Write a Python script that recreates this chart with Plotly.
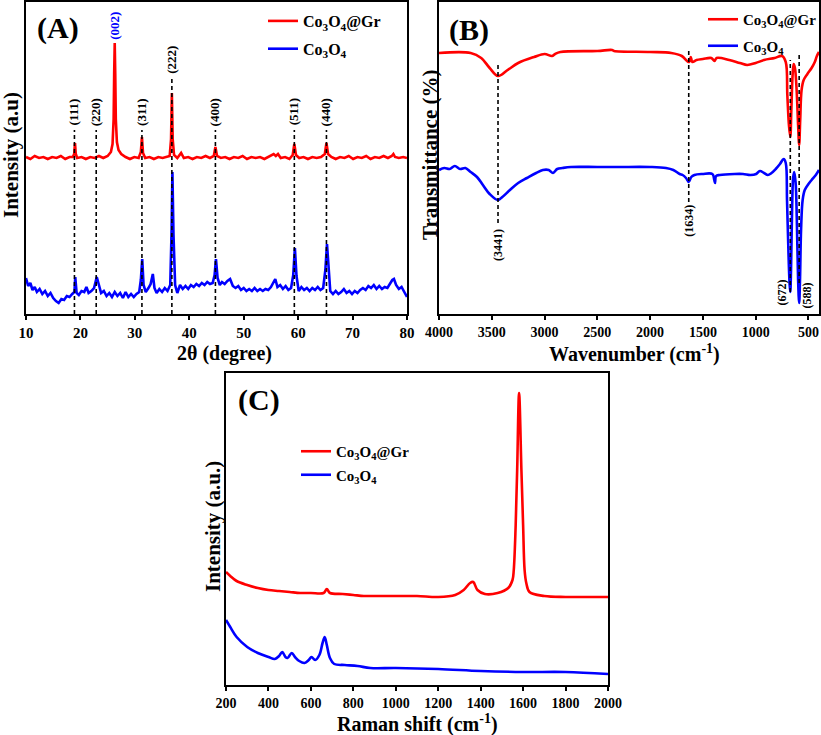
import plotly.graph_objects as go

# ---------------- Panel A: XRD ----------------
xrd_gr_2theta = [10.0, 10.8, 11.6, 12.4, 13.2, 14.0, 14.8, 15.6, 16.4, 17.2, 18.0, 18.6, 18.85, 19.0, 19.15, 19.4,
                 20.2, 21.0, 21.8, 22.6, 23.4, 24.2, 25.0, 25.6, 25.9, 26.1, 26.2, 26.3, 26.4, 26.5, 26.7, 27.0,
                 27.5, 28.3, 29.1, 29.9, 30.7, 31.1, 31.3, 31.5, 31.9, 32.7, 33.5, 34.3, 35.1, 35.9, 36.4, 36.65,
                 36.8, 36.95, 37.2, 37.8, 38.5, 39.0, 39.8, 40.6, 41.4, 42.2, 43.0, 43.8, 44.5, 44.8, 45.1, 45.8,
                 46.6, 47.4, 48.2, 49.0, 49.8, 50.6, 51.4, 52.2, 53.0, 53.8, 54.6, 55.5, 55.9, 56.3, 56.8, 57.6,
                 58.4, 59.0, 59.3, 59.6, 60.2, 61.0, 61.8, 62.6, 63.4, 64.2, 64.9, 65.2, 65.5, 66.1, 66.9, 67.7,
                 68.5, 69.3, 70.1, 70.9, 71.7, 72.5, 73.3, 74.1, 74.9, 75.7, 76.5, 77.2, 77.5, 77.8, 78.5, 79.3, 80.0]
xrd_gr_int = [157, 155, 158, 156, 157, 155, 157, 156, 158, 155, 157, 157, 160, 171, 160, 156,
              157, 155, 157, 156, 158, 156, 158, 162, 170, 195, 240, 271, 240, 195, 172, 164,
              160, 157, 155, 157, 156, 162, 177, 161, 156, 157, 155, 157, 156, 157, 158, 175,
              221, 175, 159, 156, 161, 156, 157, 155, 157, 156, 158, 156, 158, 167, 158, 156,
              157, 155, 157, 156, 158, 155, 157, 156, 157, 155, 157, 160, 158, 160, 156, 157,
              155, 159, 170, 159, 156, 157, 155, 157, 156, 157, 160, 171, 160, 157, 155, 157,
              156, 158, 155, 157, 156, 158, 155, 157, 156, 158, 156, 158, 160, 157, 156, 157, 156]

xrd_co_2theta = [10.0, 10.4, 10.8, 11.2, 11.6, 12.0, 12.5, 13.0, 13.5, 14.0, 14.5, 15.0, 15.5, 16.0, 16.5, 17.0,
                 17.5, 18.0, 18.5, 18.9, 19.05, 19.3, 19.7, 20.2, 20.7, 21.1, 21.5, 22.0, 22.5, 23.0, 23.4, 23.8,
                 24.3, 24.8, 25.3, 25.8, 26.3, 26.8, 27.3, 27.8, 28.3, 28.8, 29.3, 29.8, 30.3, 30.8, 31.1, 31.35,
                 31.6, 32.0, 32.5, 32.9, 33.3, 33.6, 34.0, 34.5, 35.0, 35.5, 36.0, 36.5, 36.75, 36.9, 37.1, 37.4,
                 37.8, 38.3, 38.8, 39.3, 39.8, 40.3, 40.8, 41.3, 41.8, 42.3, 42.8, 43.3, 43.8, 44.3, 44.65, 44.9,
                 45.2, 45.6, 46.0, 46.5, 47.0, 47.5, 48.0, 48.5, 49.0, 49.5, 50.0, 50.5, 51.0, 51.5, 52.0, 52.5,
                 53.0, 53.5, 54.0, 54.5, 55.0, 55.5, 55.8, 56.2, 56.7, 57.2, 57.7, 58.2, 58.7, 59.1, 59.4, 59.7,
                 60.1, 60.6, 61.1, 61.6, 62.1, 62.6, 63.1, 63.6, 64.1, 64.6, 65.0, 65.3, 65.6, 65.9, 66.4, 66.9,
                 67.4, 67.9, 68.4, 68.9, 69.4, 69.9, 70.4, 70.9, 71.4, 71.9, 72.4, 72.9, 73.4, 73.9, 74.4, 74.9,
                 75.4, 75.9, 76.4, 76.9, 77.3, 77.6, 78.0, 78.5, 79.0, 79.5, 80.0]
xrd_co_int = [36, 28, 31, 24, 27, 22, 25, 20, 23, 18, 21, 16, 13, 11, 15, 14,
              18, 17, 20, 22, 37, 21, 19, 23, 22, 27, 21, 23, 26, 37, 29, 21,
              23, 18, 21, 17, 22, 18, 21, 16, 22, 17, 20, 17, 20, 22, 34, 55,
              29, 22, 26, 30, 40, 26, 21, 25, 22, 26, 23, 29, 84, 142, 79, 29,
              21, 29, 25, 28, 25, 29, 27, 30, 28, 31, 29, 32, 30, 31, 39, 55,
              36, 29, 32, 30, 33, 35, 28, 26, 28, 24, 26, 23, 25, 23, 26, 23,
              25, 23, 25, 24, 27, 32, 35, 27, 29, 25, 28, 24, 26, 39, 66, 38,
              23, 27, 24, 26, 23, 26, 24, 27, 24, 26, 44, 70, 49, 23, 20, 23,
              20, 22, 25, 21, 23, 20, 23, 21, 24, 26, 24, 28, 26, 29, 25, 28,
              25, 27, 26, 30, 34, 35, 29, 25, 27, 22, 17]

xrd_peaks = [18.9, 22.9, 31.3, 36.8, 44.8, 59.3, 65.2]
xrd_peak_labels = ["(111)", "(220)", "(311)", "(222)", "(400)", "(511)", "(440)"]
xrd_line_top = [184, 184, 184, 237, 184, 184, 184]
xrd_label_y = [202, 202, 202, 254, 202, 202, 202]
gr_peak = [26.3]
gr_peak_label = ["(002)"]
gr_label_y = [288]

# ---------------- Panel B: FTIR ----------------
ftir_gr_wn = [4000, 3700, 3600, 3520, 3441, 3350, 3250, 3100, 3000, 2930, 2900, 2850, 2500, 2360, 2340, 2000,
              1800, 1700, 1650, 1630, 1615, 1600, 1560, 1500, 1420, 1390, 1370, 1250, 1150, 1080, 1000, 920,
              820, 750, 715, 700, 685, 672, 662, 650, 640, 628, 612, 598, 588, 578, 565, 545, 510, 470, 440,
              420, 400]
ftir_gr_t = [261, 261, 256, 246, 238, 244, 251, 257, 260, 258, 260, 262, 263, 264, 263, 262,
             261, 258, 253, 252, 257, 252, 254, 255, 256, 253, 256, 254, 251, 249, 251, 254,
             256, 258, 252, 219, 189, 177, 204, 239, 250, 246, 224, 189, 169, 194, 224, 234, 240, 246, 252,
             258, 262]

ftir_co_wn = [4000, 3950, 3900, 3850, 3800, 3750, 3700, 3640, 3584, 3520, 3442, 3400, 3328, 3250, 3167, 3080,
              3016, 2960, 2920, 2880, 2830, 2750, 2500, 2300, 2000, 1850, 1780, 1720, 1692, 1660, 1634, 1610,
              1580, 1505, 1410, 1392, 1385, 1375, 1340, 1200, 1120, 1050, 995, 960, 920, 885, 850, 810,
              770, 735, 715, 703, 690, 678, 672, 665, 655, 645, 635, 622, 610, 598, 588, 580, 570, 555,
              535, 500, 470, 430, 400]
ftir_co_t = [144, 146, 145, 148, 145, 146, 142, 137, 129, 120, 114, 117, 124, 131, 136, 141,
             144, 144, 141, 145, 146, 147, 147, 147, 147, 146, 144, 140, 139, 136, 132, 137,
             139, 140, 140, 134, 131, 138, 139, 140, 140, 139, 140, 143, 141, 139, 141, 145,
             150, 155, 151, 114, 64, 29, 22, 44, 104, 136, 142, 132, 94, 34, 11, 34, 84, 114,
             124, 130, 134, 139, 144]

ftir_marks = [3441, 1634, 672, 588]
ftir_mark_labels = ["(3441)", "(1634)", "(672)", "(588)"]
ftir_line_top = [252, 266, 254, 259]
ftir_line_bottom = [91, 112, 22, 31]
ftir_label_x = [3441, 1634, 755, 509]
ftir_label_y = [69, 93, 21, 19]

# ---------------- Panel C: Raman ----------------
raman_gr_shift = [200, 220, 250, 300, 350, 400, 450, 500, 550, 600, 660, 675, 690, 750, 800, 850, 900, 1000,
                  1100, 1200, 1280, 1320, 1350, 1365, 1385, 1420, 1480, 1530, 1550, 1556, 1565, 1572, 1581,
                  1592, 1600, 1607, 1615, 1630, 1700, 1800, 1900, 2000]
raman_gr_int = [113, 109, 104, 100, 97, 95, 94, 93, 92, 92, 92, 96, 92, 91, 90, 89, 89, 89,
                89, 88, 90, 95, 102, 103, 95, 91, 92, 97, 105, 115, 160, 215, 292,
                215, 160, 115, 102, 93, 89, 88, 88, 88]

raman_co_shift = [200, 220, 250, 300, 350, 400, 430, 450, 465, 480, 490, 510, 525, 545, 570, 590, 603, 620,
                  640, 655, 665, 675, 690, 710, 760, 820, 880, 1000, 1200, 1400, 1600, 1800, 2000]
raman_co_int = [65, 58, 48, 38, 32, 28, 26, 29, 33, 28, 27, 32, 28, 24, 22, 25, 28, 25,
                30, 42, 48, 40, 27, 21, 20, 19, 17, 17, 16, 14, 13, 13, 11]

RED = "#ff0000"
BLUE = "#0000ff"
FONT = "Times New Roman, Liberation Serif, serif"
W, H = 821, 735

fig = go.Figure()
series = [
    (xrd_gr_2theta, xrd_gr_int, RED, "Co<sub>3</sub>O<sub>4</sub>@Gr", "x", "y", "legend", "linear"),
    (xrd_co_2theta, xrd_co_int, BLUE, "Co<sub>3</sub>O<sub>4</sub>", "x", "y", "legend", "linear"),
    (ftir_gr_wn, ftir_gr_t, RED, "Co<sub>3</sub>O<sub>4</sub>@Gr", "x2", "y2", "legend2", "spline"),
    (ftir_co_wn, ftir_co_t, BLUE, "Co<sub>3</sub>O<sub>4</sub>", "x2", "y2", "legend2", "spline"),
    (raman_gr_shift, raman_gr_int, RED, "Co<sub>3</sub>O<sub>4</sub>@Gr", "x3", "y3", "legend3", "spline"),
    (raman_co_shift, raman_co_int, BLUE, "Co<sub>3</sub>O<sub>4</sub>", "x3", "y3", "legend3", "spline"),
]
for i, (xs, ys, col, name, xa, ya, leg, shp) in enumerate(series):
    fig.add_trace(go.Scatter(x=xs, y=ys, mode="lines", line=dict(color=col, width=2.6, shape=shp),
                             name=name, xaxis=xa, yaxis=ya, legend=leg, legendgroup="g%d" % i))


def xax(domain, rng, dtick, size):
    return dict(domain=domain, range=rng, dtick=dtick, showline=True, linecolor="black", linewidth=2,
                mirror=True, ticks="outside", ticklen=4, tickwidth=2, tickcolor="black", showgrid=False,
                zeroline=False, automargin=False,
                tickfont=dict(family=FONT, size=size, color="black", weight="bold"))


def yax(domain, anchor):
    return dict(domain=domain, range=[0, 312], anchor=anchor, showline=True, linecolor="black", linewidth=2,
                mirror=True, ticks="", showticklabels=False, showgrid=False, zeroline=False, automargin=False)


top_dom = [1 - 314 / H, 1 - 2 / H]
shapes = []
annotations = []


def ann(**kw):
    kw.setdefault("xanchor", "center")
    kw.setdefault("yanchor", "middle")
    kw.setdefault("showarrow", False)
    annotations.append(kw)


for px, top, lab, ly in zip(xrd_peaks, xrd_line_top, xrd_peak_labels, xrd_label_y):
    shapes.append(dict(type="line", xref="x", yref="y", x0=px, x1=px, y0=0, y1=top,
                       line=dict(color="black", width=1.6, dash="4px,3px")))
    ann(x=px, y=ly, xref="x", yref="y", text=lab, textangle=-90,
        font=dict(family=FONT, size=13, color="black", weight="bold"))
for px, lab, ly in zip(gr_peak, gr_peak_label, gr_label_y):
    ann(x=px, y=ly, xref="x", yref="y", text=lab, textangle=-90,
        font=dict(family=FONT, size=13, color=BLUE, weight="bold"))

for wx, t0, t1, lab, lx, ly in zip(ftir_marks, ftir_line_top, ftir_line_bottom, ftir_mark_labels,
                                   ftir_label_x, ftir_label_y):
    shapes.append(dict(type="line", xref="x2", yref="y2", x0=wx, x1=wx, y0=t1, y1=t0,
                       line=dict(color="black", width=1.6, dash="4px,3px")))
    ann(x=lx, y=ly, xref="x2", yref="y2", text=lab, textangle=-90,
        font=dict(family=FONT, size=12, color="black", weight="bold"))

# panel letters
for ax, lab, dx, dy in [("", "(A)", 0.084, 0.917), ("2", "(B)", 0.079, 0.91), ("3", "(C)", 0.086, 0.913)]:
    ann(x=dx, y=dy, xref="x%s domain" % ax, yref="y%s domain" % ax, text=lab,
        font=dict(family=FONT, size=30, color="black", weight="bold"))

# axis titles
titles = [("2θ (degree)", 224, 353, 0, 20), ("Wavenumber (cm<sup>-1</sup>)", 634, 353, 0, 20),
          ("Raman shift (cm<sup>-1</sup>)", 417, 723, 0, 20),
          ("Intensity (a.u)", 11, 155, -90, 21), ("Transmittance (%)", 430, 155, -90, 21),
          ("Intensity (a.u.)", 213, 527, -90, 21)]
for txt, x, y, ang, sz in titles:
    ann(x=x / W, y=1 - y / H, xref="paper", yref="paper", text=txt, textangle=ang,
        font=dict(family=FONT, size=sz, color="black", weight="bold"))

fig.update_layout(
    width=W, height=H, margin=dict(l=0, r=0, t=0, b=0, autoexpand=False),
    paper_bgcolor="white", plot_bgcolor="white",
    font=dict(family=FONT, color="black"),
    xaxis=xax([26 / W, 407 / W], [10, 80], 10, 15),
    yaxis=yax(top_dom, "x"),
    xaxis2=dict(xax([439 / W, 819 / W], [4000, 400], 500, 14), anchor="y2"),
    yaxis2=yax(top_dom, "x2"),
    xaxis3=dict(xax([226 / W, 608 / W], [200, 2000], 200, 14), anchor="y3"),
    yaxis3=yax([1 - 685 / H, 1 - 373 / H], "x3"),
    shapes=shapes, annotations=annotations,
    legend=dict(x=263 / W, y=1 - 4 / H, xanchor="left", yanchor="top", bgcolor="rgba(0,0,0,0)",
                tracegroupgap=4, font=dict(family=FONT, size=16, color="black", weight="bold")),
    legend2=dict(x=703 / W, y=1 - 3 / H, xanchor="left", yanchor="top", bgcolor="rgba(0,0,0,0)",
                 tracegroupgap=4, font=dict(family=FONT, size=15, color="black", weight="bold")),
    legend3=dict(x=296 / W, y=1 - 435 / H, xanchor="left", yanchor="top", bgcolor="rgba(0,0,0,0)",
                 tracegroupgap=1, font=dict(family=FONT, size=15, color="black", weight="bold")),
)

fig.write_html("out.html")
